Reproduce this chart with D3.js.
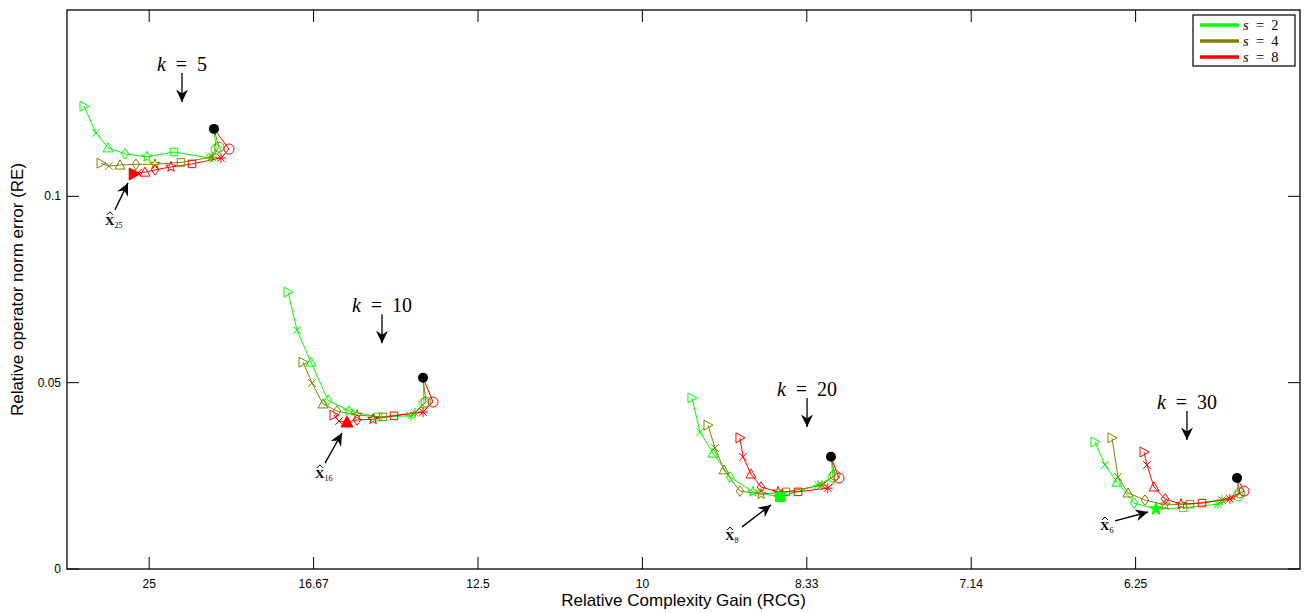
<!DOCTYPE html>
<html lang="en">
<head>
<meta charset="UTF-8">
<title>RE vs RCG</title>
<script src="https://cdn.jsdelivr.net/npm/d3@7/dist/d3.min.js"></script>
<style>
    body { margin: 0; background: #fff; }
    .axis text { font-family: "Liberation Sans", Arial, sans-serif; font-size: 12px; fill: #000; }
    .math { font-family: "Liberation Serif", "DejaVu Serif", serif; }
</style>
</head>
<body>
<svg width="1312" height="613" id="mainsvg" style="display:block"></svg>
<script>
// x axis is 100/RCG, the ticks show the RCG value
const xTicks = [4, 6, 8, 10, 12, 14, 16];
const xTickLabels = ['25', '16.67', '12.5', '10', '8.33', '7.14', '6.25'];
const yTicks = [0, 0.05, 0.1];
const yTickLabels = ['0', '0.05', '0.1'];
const kValues = [5, 10, 20, 30];
const sValues = [2, 4, 8];
const seriesColors = ['#00ff00', '#808000', '#ff0000'];
// marker used at each step of a curve
const markerOrder = ['>', 'x', '^', 'd', 'p', 's', '*', 'o'];

// common end point of each k group (black dot)
const endPoints = [[4.788, 0.1181], [7.331, 0.0513], [12.294, 0.0301], [17.234, 0.0244]];

const k5_s2 = [[3.207, 0.1242], [3.353, 0.1170], [3.499, 0.1130], [3.706, 0.1114], [3.973, 0.1106], [4.302, 0.1119], [4.740, 0.1103], [4.813, 0.1127]];
const k5_s4 = [[3.414, 0.1089], [3.511, 0.1081], [3.645, 0.1084], [3.839, 0.1086], [4.071, 0.1086], [4.387, 0.1091], [4.764, 0.1105], [4.849, 0.1132]];
const k5_s8 = [[3.815, 0.1060], [3.864, 0.1063], [3.949, 0.1065], [4.071, 0.1071], [4.265, 0.1079], [4.521, 0.1087], [4.873, 0.1103], [4.971, 0.1127]];

const k10_s2 = [[5.689, 0.0743], [5.798, 0.0641], [5.968, 0.0555], [6.175, 0.0453], [6.431, 0.0424], [6.783, 0.0408], [7.185, 0.0411], [7.343, 0.0445]];
const k10_s4 = [[5.871, 0.0555], [5.981, 0.0499], [6.114, 0.0443], [6.285, 0.0424], [6.528, 0.0413], [6.844, 0.0408], [7.234, 0.0419], [7.367, 0.0448]];
const k10_s8 = [[6.248, 0.0413], [6.309, 0.0397], [6.406, 0.0394], [6.528, 0.0400], [6.723, 0.0402], [6.978, 0.0411], [7.331, 0.0421], [7.453, 0.0448]];

const k20_s2 = [[10.603, 0.0459], [10.701, 0.0368], [10.859, 0.0311], [11.066, 0.0247], [11.345, 0.0207], [11.674, 0.0193], [12.136, 0.0225], [12.319, 0.0247]];
const k20_s4 = [[10.798, 0.0386], [10.883, 0.0325], [10.993, 0.0266], [11.187, 0.0209], [11.443, 0.0201], [11.747, 0.0207], [12.185, 0.0225], [12.343, 0.0252]];
const k20_s8 = [[11.187, 0.0352], [11.224, 0.0301], [11.321, 0.0255], [11.443, 0.0220], [11.650, 0.0207], [11.893, 0.0207], [12.255, 0.0217], [12.392, 0.0244]];

const k30_s2 = [[15.506, 0.0341], [15.628, 0.0279], [15.774, 0.0233], [15.981, 0.0177], [16.248, 0.0161], [16.577, 0.0164], [17.002, 0.0174], [17.246, 0.0196]];
const k30_s4 = [[15.713, 0.0352], [15.786, 0.0247], [15.908, 0.0204], [16.114, 0.0185], [16.358, 0.0172], [16.662, 0.0174], [17.051, 0.0185], [17.270, 0.0204]];
const k30_s8 = [[16.102, 0.0314], [16.139, 0.0279], [16.224, 0.0220], [16.358, 0.0188], [16.553, 0.0174], [16.808, 0.0177], [17.148, 0.0188], [17.319, 0.0209]];

// selected operator per k: group, series, step, subscript
const bestGroup = [0, 1, 2, 3];
const bestSeries = [2, 2, 0, 0];
const bestStep = [0, 2, 5, 4];
const bestLabels = ['25', '16', '8', '6'];

const svg = d3.select('#mainsvg');
const width = +svg.attr('width');
const height = +svg.attr('height');
const margin = { top: 10, right: 12, bottom: 44, left: 67 };

const xScale = d3.scaleLinear().domain([3, 18]).range([margin.left, width - margin.right]);
const yScale = d3.scaleLinear().domain([0, 0.15]).range([height - margin.bottom, margin.top]);

const groups = [
    [k5_s2, k5_s4, k5_s8],
    [k10_s2, k10_s4, k10_s8],
    [k20_s2, k20_s4, k20_s8],
    [k30_s2, k30_s4, k30_s8]
];

// annotation placement (data units): k arrows tip, label/tail/tip for X-hat arrows
const kArrowTips = [[4.399, 0.1253], [6.832, 0.0606], [12.003, 0.0381], [16.625, 0.0346]];
const hatLabelPos = [[3.523, 0.0937], [6.078, 0.0258], [11.066, 0.0091], [15.628, 0.0118]];
const hatTail = [[3.584, 0.0964], [6.139, 0.0284], [11.212, 0.0113], [15.750, 0.0129]];
const hatTip = [[3.742, 0.1036], [6.345, 0.0365], [11.565, 0.0172], [16.151, 0.0153]];

function markerPath(m, r) {
    const a = r * 0.75;
    switch (m) {
        case '>': return `M${-r * 0.8},${-r}L${r},0L${-r * 0.8},${r}Z`;
        case '^': return `M0,${-r}L${r},${r * 0.8}L${-r},${r * 0.8}Z`;
        case 'x': return `M${-a},${-a}L${a},${a}M${-a},${a}L${a},${-a}`;
        case 'd': return `M0,${-r * 1.05}L${r * 0.75},0L0,${r * 1.05}L${-r * 0.75},0Z`;
        case 's': return `M${-a},${-a}H${a}V${a}H${-a}Z`;
        case '*': return `M0,${-r}V${r}M${-r},0H${r}M${-a},${-a}L${a},${a}M${-a},${a}L${a},${-a}`;
        case 'o': return d3.arc()({ innerRadius: 0, outerRadius: r, startAngle: 0, endAngle: 2 * Math.PI });
        case 'p': {
            let p = '';
            for (let i = 0; i < 10; i++) {
                const ang = -Math.PI / 2 + i * Math.PI / 5;
                const rr = i % 2 === 0 ? r * 1.1 : r * 0.45;
                p += (i === 0 ? 'M' : 'L') + (rr * Math.cos(ang)).toFixed(2) + ',' + (rr * Math.sin(ang)).toFixed(2);
            }
            return p + 'Z';
        }
    }
}

svg.append('defs').append('marker')
    .attr('id', 'arrowhead').attr('viewBox', '-13 -6.5 15 13')
    .attr('refX', 0).attr('refY', 0)
    .attr('markerWidth', 15).attr('markerHeight', 13)
    .attr('markerUnits', 'userSpaceOnUse').attr('orient', 'auto')
    .append('path').attr('d', 'M0,0L-12.5,-6L-8.5,0L-12.5,6Z').attr('fill', '#000');

// axes frame and ticks (inside, mirrored)
const x0 = xScale.range()[0], x1 = xScale.range()[1];
const y0 = yScale.range()[0], y1 = yScale.range()[1];
const tickLen = 12;
const axisG = svg.append('g').attr('class', 'axis');
axisG.selectAll('.xtick').data(xTicks).join('path')
    .attr('d', d => `M${xScale(d)},${y0}v${-tickLen}M${xScale(d)},${y1}v${tickLen}`)
    .attr('stroke', '#000').attr('stroke-width', 1);
axisG.selectAll('.ytick').data(yTicks).join('path')
    .attr('d', d => `M${x0},${yScale(d)}h${tickLen}M${x1},${yScale(d)}h${-tickLen}`)
    .attr('stroke', '#000').attr('stroke-width', 1);
axisG.selectAll('.xlabel').data(xTicks).join('text')
    .attr('x', d => xScale(d)).attr('y', y0 + 19)
    .attr('text-anchor', 'middle').text((d, i) => xTickLabels[i]);
axisG.selectAll('.ylabel').data(yTicks).join('text')
    .attr('x', x0 - 6).attr('y', d => yScale(d) + 4)
    .attr('text-anchor', 'end').text((d, i) => yTickLabels[i]);
axisG.append('text')
    .attr('x', (x0 + x1) / 2).attr('y', 606)
    .attr('text-anchor', 'middle').style('font-size', '17px')
    .text('Relative Complexity Gain (RCG)');
axisG.append('text')
    .attr('transform', `translate(23, ${(y0 + y1) / 2}) rotate(-90)`)
    .attr('text-anchor', 'middle').style('font-size', '17px')
    .text('Relative operator norm error (RE)');

// curves
const line = d3.line().x(d => xScale(d[0])).y(d => yScale(d[1]));
const plotG = svg.append('g');
groups.forEach((grp, gi) => {
    grp.forEach((pts, si) => {
        const all = pts.concat([endPoints[gi]]);
        plotG.append('path').attr('d', line(all))
            .attr('fill', 'none').attr('stroke', seriesColors[si]).attr('stroke-width', 1);
    });
});
groups.forEach((grp, gi) => {
    grp.forEach((pts, si) => {
        plotG.selectAll(null).data(pts).join('path')
            .attr('transform', d => `translate(${xScale(d[0])},${yScale(d[1])})`)
            .attr('d', (d, i) => markerPath(markerOrder[i], 5))
            .attr('fill', 'none').attr('stroke', seriesColors[si]).attr('stroke-width', 1);
    });
});
plotG.selectAll('.enddot').data(endPoints).join('circle')
    .attr('cx', d => xScale(d[0])).attr('cy', d => yScale(d[1])).attr('r', 5)
    .attr('fill', '#000');
bestGroup.forEach((gi, j) => {
    const d = groups[gi][bestSeries[j]][bestStep[j]];
    plotG.append('path')
        .attr('transform', `translate(${xScale(d[0])},${yScale(d[1])})`)
        .attr('d', markerPath(markerOrder[bestStep[j]], 6))
        .attr('fill', seriesColors[bestSeries[j]]).attr('stroke', seriesColors[bestSeries[j]]);
});

// k annotations
const annG = svg.append('g').attr('class', 'math');
kArrowTips.forEach((t, i) => {
    const tx = xScale(t[0]), ty = yScale(t[1]);
    const label = annG.append('text').attr('x', tx).attr('y', ty - 31)
        .attr('text-anchor', 'middle').style('font-size', '20px');
    label.append('tspan').style('font-style', 'italic').text('k');
    label.append('tspan').text('\u2002=\u2002' + kValues[i]);
    annG.append('line').attr('x1', tx).attr('y1', ty - 29).attr('x2', tx).attr('y2', ty)
        .attr('stroke', '#000').attr('stroke-width', 1.3).attr('marker-end', 'url(#arrowhead)');
});

// X-hat annotations
hatLabelPos.forEach((p, i) => {
    const lx = xScale(p[0]), ly = yScale(p[1]);
    const t = annG.append('text').attr('x', lx - 5).attr('y', ly + 5).style('font-size', '13px');
    t.append('tspan').style('font-weight', 'bold').text('X');
    t.append('tspan').attr('dy', 3).style('font-size', '8px').text(bestLabels[i]);
    annG.append('path')
        .attr('d', `M${lx - 3},${ly - 5}L${lx},${ly - 8}L${lx + 3},${ly - 5}`)
        .attr('fill', 'none').attr('stroke', '#000').attr('stroke-width', 1);
    annG.append('line')
        .attr('x1', xScale(hatTail[i][0])).attr('y1', yScale(hatTail[i][1]))
        .attr('x2', xScale(hatTip[i][0])).attr('y2', yScale(hatTip[i][1]))
        .attr('stroke', '#000').attr('stroke-width', 1.4).attr('marker-end', 'url(#arrowhead)');
});

// frame on top
svg.append('rect').attr('x', x0).attr('y', y1).attr('width', x1 - x0).attr('height', y0 - y1)
    .attr('fill', 'none').attr('stroke', '#000').attr('stroke-width', 1.3);

// legend
const legRow = 16;
const lg = svg.append('g').attr('transform', `translate(${x1 - 107}, 15)`);
lg.append('rect').attr('width', 102).attr('height', 51)
    .attr('fill', '#fff').attr('stroke', '#000').attr('stroke-width', 1.2);
lg.selectAll('.legline').data(sValues).join('line')
    .attr('x1', 7).attr('x2', 46)
    .attr('y1', (d, i) => 10 + i * legRow).attr('y2', (d, i) => 10 + i * legRow)
    .attr('stroke', (d, i) => seriesColors[i]).attr('stroke-width', 3.5);
const legText = lg.selectAll('.legtext').data(sValues).join('text')
    .attr('class', 'math').attr('x', 50).attr('y', (d, i) => 15 + i * legRow)
    .style('font-size', '14.5px');
legText.append('tspan').style('font-style', 'italic').text('s');
legText.append('tspan').text(d => '\u2002=\u2002' + d);
</script>
</body>
</html>
